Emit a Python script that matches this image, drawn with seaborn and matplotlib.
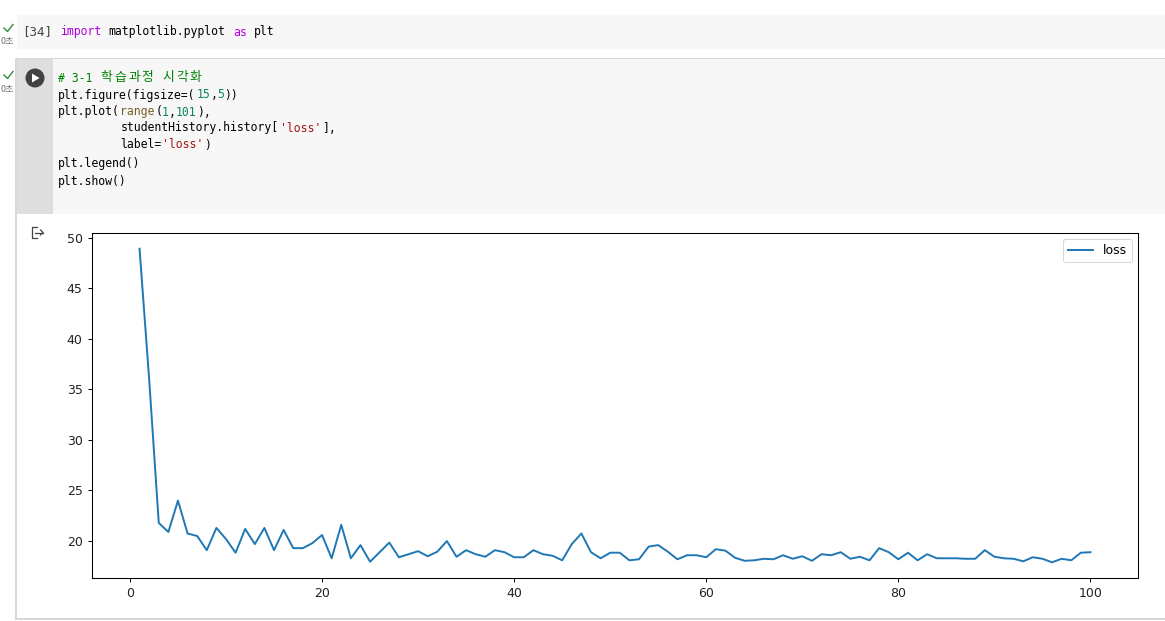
import matplotlib
matplotlib.use("Agg")
import matplotlib.pyplot as plt
import seaborn as sns
import numpy as np
import pandas as pd
from matplotlib.patches import Rectangle, Ellipse, Polygon
from matplotlib.lines import Line2D

epochs = list(range(1, 101))
loss = [48.9, 36.0, 21.8, 20.9, 24.0, 20.75, 20.5, 19.1, 21.3, 20.2,
        18.85, 21.2, 19.7, 21.3, 19.1, 21.1, 19.3, 19.3, 19.8, 20.6,
        18.3, 21.6, 18.3, 19.6, 17.96, 18.9, 19.85, 18.4, 18.7, 19.0,
        18.5, 18.95, 20.0, 18.45, 19.1, 18.7, 18.45, 19.1, 18.9, 18.4,
        18.4, 19.1, 18.7, 18.55, 18.1, 19.7, 20.75, 18.9, 18.3, 18.85,
        18.85, 18.1, 18.2, 19.45, 19.6, 18.95, 18.2, 18.6, 18.6, 18.4,
        19.2, 19.05, 18.35, 18.05, 18.1, 18.25, 18.2, 18.6, 18.25, 18.5,
        18.05, 18.7, 18.6, 18.9, 18.25, 18.45, 18.1, 19.3, 18.9, 18.2,
        18.85, 18.1, 18.7, 18.3, 18.3, 18.3, 18.25, 18.25, 19.1, 18.45,
        18.3, 18.25, 18.0, 18.4, 18.25, 17.9, 18.25, 18.1, 18.85, 18.9]
series_label = "loss"

W, H = 1165, 621
fig = plt.figure(figsize=(W / 100, H / 100), dpi=100)
fig.patch.set_facecolor("white")


def fx(x):
    return x / W


def fy(y):
    return 1 - y / H


def rect(x0, y0, x1, y1, **kw):
    fig.patches.append(Rectangle((fx(x0), fy(y1)), fx(x1) - fx(x0), fy(y0) - fy(y1),
                                 transform=fig.transFigure, figure=fig, **kw))


# ---------- notebook chrome ----------
rect(17, 15, 1165, 49, facecolor="#f7f7f7", edgecolor="none", zorder=0)
rect(15, 58, 1168, 620, facecolor="#d8d8d8", edgecolor="none", zorder=0)
rect(17, 59, 1168, 618, facecolor="white", edgecolor="none", zorder=0.1)
rect(17, 59, 53, 214, facecolor="#dedede", edgecolor="none", zorder=0.2)
rect(53, 59, 1165, 214, facecolor="#f7f7f7", edgecolor="none", zorder=0.2)

for yy in (28, 75):
    fig.lines.append(Line2D([fx(4), fx(7.5), fx(13)], [fy(yy), fy(yy + 3.5), fy(yy - 3.5)],
                            transform=fig.transFigure, color="#2e8b3a", lw=1.0, zorder=1))
    fig.text(fx(7), fy(yy + 14), "0초", fontsize=6.5, color="#777777",
             family=["Noto Sans CJK KR", "DejaVu Sans"], ha="center", va="center")

mono = ["DejaVu Sans Mono", "Noto Sans CJK KR"]
fig.text(fx(22), fy(32), "[34]", fontsize=9, family=mono, color="#444444", va="center")

# run button
fig.patches.append(Ellipse((fx(35), fy(78)), 19 / W, 19 / H, transform=fig.transFigure,
                           facecolor="#424242", edgecolor="none", figure=fig, zorder=1))
fig.patches.append(Polygon([(fx(32), fy(73.5)), (fx(32), fy(82.5)), (fx(39.5), fy(78))],
                           transform=fig.transFigure, facecolor="white",
                           edgecolor="none", figure=fig, zorder=2))

# output icon
for xs, ys in (([37, 32, 32, 37], [227, 227, 238, 238]),
               ([35, 43], [232.5, 232.5]),
               ([40.5, 43, 40.5], [230, 232.5, 235])):
    fig.lines.append(Line2D([fx(v) for v in xs], [fy(v) for v in ys],
                            transform=fig.transFigure, color="#444444", lw=0.9, zorder=1))

FS = 8.3
CW = FS / 72 * 100 * 0.6021
C_KW = "#af00db"
C_NUM = "#098658"
C_FN = "#795e26"
C_STR = "#a31515"
C_COM = "#008000"
C_TXT = "#000000"


def code_line(x0, y, segments):
    n = 0
    for txt, col in segments:
        stripped = txt.lstrip(" ")
        lead = len(txt) - len(stripped)
        body = stripped.rstrip(" ")
        if body:
            fig.text(fx(x0 + (n + lead) * CW), fy(y), body, fontsize=FS, family=mono,
                     color=col, va="center", ha="left")
        n += len(txt)


code_line(60, 32, [("import", C_KW), (" matplotlib.pyplot ", C_TXT), ("as", C_KW), (" plt", C_TXT)])

# comment line
fig.text(fx(58), fy(78), "# 3-1", fontsize=FS, family=mono, color=C_COM, va="center", ha="left")
kx = 58 + 6 * CW
for word in ("학습과정", "시각화"):
    for ch in word:
        fig.text(fx(kx + 6.8), fy(78), ch, fontsize=9.2,
                 family=["Noto Sans CJK KR"], color=C_COM, va="center", ha="center")
        kx += 13.7
    kx += CW

code_line(58, 95, [("plt.figure(figsize=(", C_TXT), ("15", C_NUM), (",", C_TXT),
                   ("5", C_NUM), ("))", C_TXT)])
code_line(58, 112, [("plt.plot(", C_TXT), ("range", C_FN), ("(", C_TXT), ("1", C_NUM),
                    (",", C_TXT), ("101", C_NUM), ("),", C_TXT)])
code_line(58, 128, [("         studentHistory.history[", C_TXT), ("'loss'", C_STR), ("],", C_TXT)])
code_line(58, 145, [("         label=", C_TXT), ("'loss'", C_STR), (")", C_TXT)])
code_line(58, 163, [("plt.legend()", C_TXT)])
code_line(58, 181, [("plt.show()", C_TXT)])

# ---------- chart ----------
ax = fig.add_axes([fx(92), fy(578), fx(1138) - fx(92), fy(233) - fy(578)])
ax.set_zorder(10)
df = pd.DataFrame({"epoch": epochs, "loss": loss})
sns.lineplot(data=df, x="epoch", y="loss", ax=ax, label=series_label,
             color="#1f77b4", linewidth=1.4)
ax.set_xlabel("")
ax.set_ylabel("")
ax.set_xlim(-3.95, 104.95)
ax.set_ylim(16.35, 50.45)
ax.set_xticks([0, 20, 40, 60, 80, 100])
ax.set_yticks([20, 25, 30, 35, 40, 45, 50])
ax.tick_params(labelsize=9, length=3.2, width=0.7, color="black", labelcolor="#222222")
for s in ax.spines.values():
    s.set_linewidth(0.75)
    s.set_color("black")
ax.grid(False)
leg = ax.legend(loc="upper right", fontsize=9, frameon=True, fancybox=True)
leg.get_frame().set_edgecolor("#cccccc")
leg.get_frame().set_linewidth(0.7)

fig.savefig("out.png", dpi=100, facecolor="white")
